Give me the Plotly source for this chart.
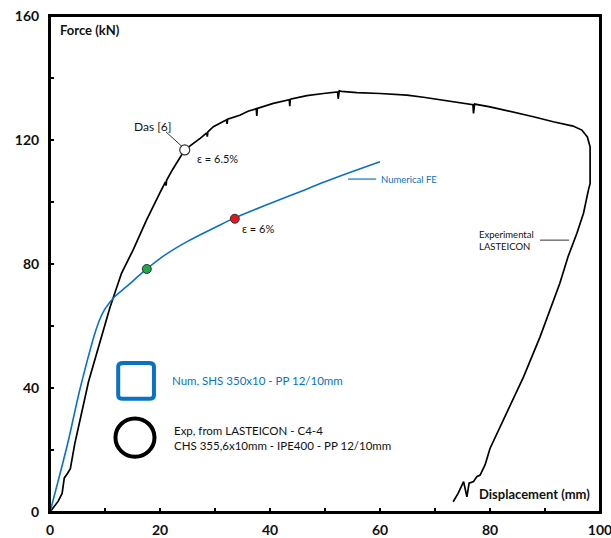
import plotly.graph_objects as go

# Experimental LASTEICON curve (displacement mm, force kN)
exp_x = [0, 0.6, 1.5, 2.2, 2.6, 3.2, 3.7, 4.5, 7, 10.9, 13, 15.1, 17.5, 20, 21, 21.1, 21.2,
         22.3, 24.5, 27.3, 28.5, 28.6, 28.7, 29.7, 32.1, 32.2, 32.3, 34.5, 36, 37.5, 37.6, 37.7,
         40.6, 43.5, 43.6, 43.7, 46.7, 49.7, 52.3, 52.4, 52.6, 53, 55.8, 60, 63, 64.9, 67.9,
         72.1, 76.9, 77.0, 77.2, 80, 84.2, 87.9, 91.5, 95.1, 96.7, 97.7, 98.2, 98.2, 97.9, 97,
         95.8, 94.2, 92.7, 90.9, 89.1, 86.1, 82.7, 80, 79.1, 78.2, 77.6, 77, 76.2, 75.8, 75.2,
         74.2, 73.3]
exp_y = [0, 1.5, 3.5, 6, 11, 12.5, 14, 22, 42, 66, 77, 84.5, 94, 103, 106.5, 105.3, 107,
         110.5, 116.8, 120.5, 122.3, 121.1, 122.6, 124.3, 126.5, 125.2, 126.7, 128, 129.3, 130.1, 127.8, 130.2,
         131.8, 133, 130.9, 133.2, 134.3, 135, 135.5, 133.3, 135.9, 135.7, 135.3, 135, 134.8, 134.5, 133.8,
         132.7, 131.4, 128.6, 131.6, 130.7, 129.1, 127.5, 125.9, 124.5, 123.2, 121, 117.8, 106, 103.9, 96.4,
         89.9, 82.4, 73.8, 65.2, 56.5, 43.6, 30.7, 20.5, 15.2, 11.9, 11.4, 9.8, 9.3, 4.9, 9.8,
         6, 3.3]

# Numerical FE curve
num_x = [0, 3.2, 5.5, 8.6, 10.0, 11.8, 13.9, 17.6, 21, 25, 30, 33.5, 40, 45, 50, 55, 60]
num_y = [0, 22, 40, 60, 65.5, 69.5, 72.7, 78.4, 83, 87.3, 91.8, 94.8, 99.5, 103, 106.5, 109.8, 113]

# Highlighted points
das_pt = (24.5, 116.8)
red_pt = (33.6, 94.6)
green_pt = (17.6, 78.4)

x_ticks = list(range(0, 101, 10))
x_ticktext = [str(v) if v % 20 == 0 else "" for v in x_ticks]
y_ticks = list(range(0, 161, 20))
y_ticktext = [str(v) if v % 40 == 0 else "" for v in y_ticks]

FONT = "Lato"
BLUE = "#0a72c4"

fig = go.Figure()
fig.add_trace(go.Scatter(x=exp_x, y=exp_y, mode="lines",
                         line=dict(color="black", width=1.7), hoverinfo="skip"))
fig.add_trace(go.Scatter(x=num_x, y=num_y, mode="lines",
                         line=dict(color=BLUE, width=1.6, shape="spline"), hoverinfo="skip"))
fig.add_trace(go.Scatter(x=[das_pt[0]], y=[das_pt[1]], mode="markers",
                         marker=dict(color="white", size=10, line=dict(color="#333", width=1.2))))
fig.add_trace(go.Scatter(x=[red_pt[0]], y=[red_pt[1]], mode="markers",
                         marker=dict(color="#e8141b", size=9, line=dict(color="#333", width=1))))
fig.add_trace(go.Scatter(x=[green_pt[0]], y=[green_pt[1]], mode="markers",
                         marker=dict(color="#1fa84a", size=9, line=dict(color="#333", width=1))))

shapes = [
    # frame
    dict(type="rect", xref="paper", yref="paper", x0=0, y0=0, x1=1, y1=1,
         line=dict(color="black", width=2), layer="above"),
    # leader lines
    dict(type="line", x0=21.1, y0=122.6, x1=24.0, y1=117.9, line=dict(color="#333", width=1)),
    dict(type="line", x0=54.2, y0=107.4, x1=59.3, y1=107.4, line=dict(color=BLUE, width=1.2)),
    dict(type="line", x0=89.1, y0=87.7, x1=94.4, y1=87.7, line=dict(color="#333", width=1)),
    # legend icons
    dict(type="path",
         path="M 13.3,48.1 L 18.0,48.1 Q 18.9,48.1 18.9,46.9 L 18.9,37.7 Q 18.9,36.5 18.0,36.5 "
              "L 13.3,36.5 Q 12.4,36.5 12.4,37.7 L 12.4,46.9 Q 12.4,48.1 13.3,48.1 Z",
         line=dict(color=BLUE, width=4)),
    dict(type="circle", x0=11.9, y0=17.8, x1=19.0, y1=30.2, line=dict(color="black", width=4)),
]

ann = [
    dict(x=18.8, y=124.5, text="Das [6]", xanchor="center", yanchor="middle",
         font=dict(size=12, color="#111")),
    dict(x=26.3, y=114.0, text="ε = 6.5%", xanchor="left", yanchor="middle",
         font=dict(size=11, color="#111")),
    dict(x=34.6, y=91.3, text="ε = 6%", xanchor="left", yanchor="middle",
         font=dict(size=11, color="#111")),
    dict(x=59.8, y=107.4, text="Numerical FE", xanchor="left", yanchor="middle",
         font=dict(size=9.5, color=BLUE)),
    dict(x=77.6, y=87.7, text="Experimental<br>LASTEICON", xanchor="left", yanchor="middle",
         align="left", font=dict(size=9.5, color="#111")),
    dict(x=1.5, y=155.5, text="Force (kN)", xanchor="left", yanchor="middle",
         font=dict(size=13, color="#111", weight="bold")),
    dict(x=77.6, y=5.8, text="Displacement (mm)", xanchor="left", yanchor="middle",
         font=dict(size=13, color="#111", weight="bold")),
    dict(x=21.8, y=42.3, text="Num, SHS 350x10 - PP 12/10mm", xanchor="left", yanchor="middle",
         font=dict(size=11.5, color=BLUE)),
    dict(x=22.2, y=24.0, text="Exp, from LASTEICON - C4-4<br>CHS 355,6x10mm - IPE400 - PP 12/10mm",
         xanchor="left", yanchor="middle", align="left", font=dict(size=11.5, color="#111")),
]
for a in ann:
    a.update(xref="x", yref="y", showarrow=False)

fig.update_layout(
    width=611, height=538,
    margin=dict(l=50, r=11, t=16, b=26),
    paper_bgcolor="white", plot_bgcolor="white",
    showlegend=False,
    font=dict(family=FONT, color="#111"),
    shapes=shapes, annotations=ann,
    xaxis=dict(range=[0, 100], tickvals=x_ticks, ticktext=x_ticktext, ticks="inside",
               ticklen=4, tickwidth=1.5, tickcolor="black", showgrid=False, zeroline=False,
               showline=True, linecolor="black", linewidth=2, mirror=True, automargin=False,
               ticklabeloverflow="allow", ticklabelstandoff=4,
               tickfont=dict(size=14, weight="bold", family=FONT, color="#111")),
    yaxis=dict(range=[0, 160], tickvals=y_ticks, ticktext=y_ticktext, ticks="inside",
               ticklen=4, tickwidth=1.5, tickcolor="black", showgrid=False, zeroline=False,
               showline=True, linecolor="black", linewidth=2, mirror=True, automargin=False,
               ticklabeloverflow="allow",
               tickfont=dict(size=14, weight="bold", family=FONT, color="#111"),
               ticklabelstandoff=6),
)

fig.write_html("out.html")
